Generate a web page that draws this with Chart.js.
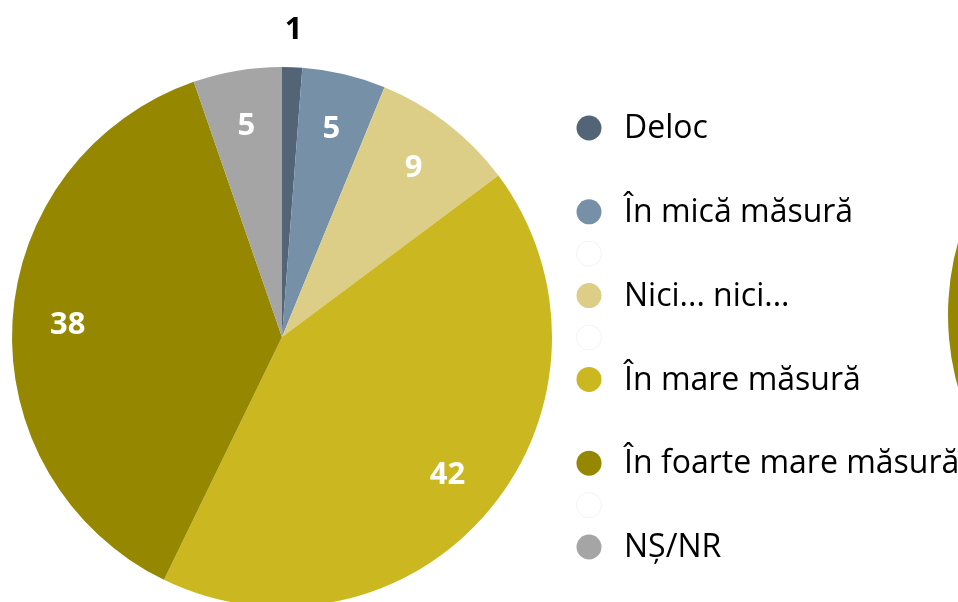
<!DOCTYPE html>
<html>
<head>
<meta charset="utf-8">
<script src="https://cdn.jsdelivr.net/npm/chart.js@4"></script>
<style>
  html, body { margin: 0; padding: 0; background: #fff; overflow: hidden; width: 958px; height: 602px; }
  #main { position: absolute; left: 0; top: 0; }
  #second { position: absolute; left: 948px; top: 45px; }
</style>
</head>
<body>
<canvas id="main" width="958" height="620"></canvas>
<canvas id="second" width="540" height="540"></canvas>
<script>
// categorii si valori
const categorii = ["Deloc", "În mică măsură", "Nici... nici...", "În mare măsură", "În foarte mare măsură", "NȘ/NR"]
const valori = [1.2, 5.0, 8.6, 42.4, 37.5, 5.3]
const culori = ["#546477", "#7690A8", "#DCCE87", "#CBB71F", "#958800", "#A5A5A5"]
// randuri legenda: null = rand gol, "ring" = cerc gol abia vizibil
const randuriLegenda = [0, null, 1, "ring", 2, "ring", 3, null, 4, "ring", 5]

const fontText = "'Open Sans', 'Noto Sans', sans-serif"

const etichetePlugin = {
    id: "etichete",
    afterDatasetsDraw(chart) {
        const ctx = chart.ctx
        const meta = chart.getDatasetMeta(0)
        ctx.save()
        ctx.textAlign = "center"
        ctx.textBaseline = "middle"
        ctx.font = "bold 31px " + fontText
        meta.data.forEach((arc, i) => {
            const { x, y, startAngle, endAngle, outerRadius } = arc.getProps(["x", "y", "startAngle", "endAngle", "outerRadius"], true)
            const mid = (startAngle + endAngle) / 2
            const text = String(Math.round(valori[i]))
            let r = outerRadius * 0.795
            ctx.fillStyle = "#fff"
            if (valori[i] < 2) {
                r = outerRadius * 1.14
                ctx.fillStyle = "#000"
            }
            ctx.fillText(text, x + Math.cos(mid) * r, y + Math.sin(mid) * r + 1)
        })
        ctx.restore()
    }
}

const legendaPlugin = {
    id: "legenda",
    afterDraw(chart) {
        const ctx = chart.ctx
        const x0 = chart.chartArea.right + 37
        const y0 = 128
        const pas = 41.9
        ctx.save()
        ctx.textBaseline = "middle"
        ctx.textAlign = "left"
        ctx.font = "32px " + fontText
        randuriLegenda.forEach((rand, k) => {
            const y = y0 + k * pas
            if (rand === null) return
            ctx.beginPath()
            ctx.arc(x0, y, 12.5, 0, Math.PI * 2)
            if (rand === "ring") {
                ctx.strokeStyle = "#f3f3f3"
                ctx.lineWidth = 1
                ctx.stroke()
                return
            }
            ctx.fillStyle = culori[rand]
            ctx.fill()
            ctx.fillStyle = "#000"
            ctx.fillText(categorii[rand], x0 + 35, y + 1)
        })
        ctx.restore()
    }
}

new Chart(document.getElementById("main"), {
    type: "pie",
    data: {
        labels: categorii,
        datasets: [{ data: valori, backgroundColor: culori, borderWidth: 0 }]
    },
    options: {
        responsive: false,
        animation: false,
        layout: { padding: { left: 12, top: 67, right: 406, bottom: 13 } },
        plugins: { legend: { display: false }, tooltip: { enabled: false } }
    },
    plugins: [etichetePlugin, legendaPlugin]
})

// al doilea grafic, taiat de marginea din dreapta
new Chart(document.getElementById("second"), {
    type: "pie",
    data: {
        labels: categorii,
        datasets: [{ data: valori, backgroundColor: culori, borderWidth: 0 }]
    },
    options: {
        responsive: false,
        animation: false,
        plugins: { legend: { display: false }, tooltip: { enabled: false } }
    }
})
</script>
</body>
</html>
